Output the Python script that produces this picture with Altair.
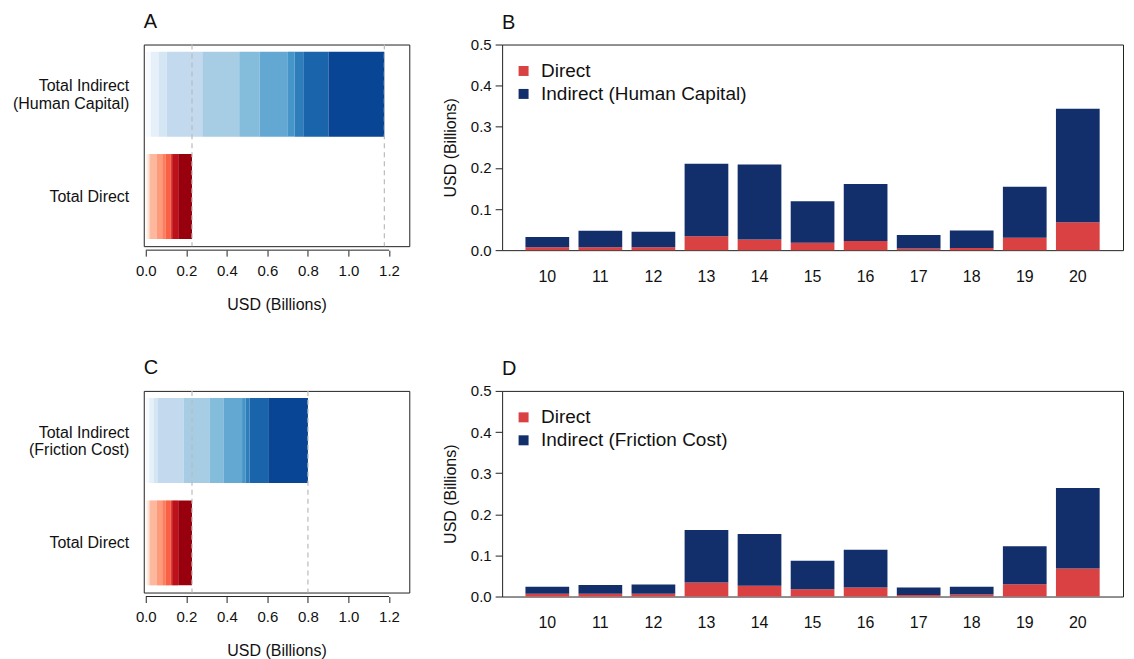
import altair as alt
import pandas as pd

# ---------------- data ----------------
years = [10, 11, 12, 13, 14, 15, 16, 17, 18, 19, 20]
direct = [0.007, 0.007, 0.007, 0.034, 0.026, 0.018, 0.022, 0.004, 0.005, 0.030, 0.068]
indirect_hc = [0.025, 0.040, 0.038, 0.176, 0.182, 0.101, 0.139, 0.033, 0.043, 0.124, 0.276]
indirect_fc = [0.017, 0.021, 0.022, 0.128, 0.126, 0.069, 0.092, 0.018, 0.019, 0.092, 0.196]
x_ticks_left = [0.0, 0.2, 0.4, 0.6, 0.8, 1.0, 1.2]
y_ticks_right = [0.0, 0.1, 0.2, 0.3, 0.4, 0.5]

# ---------------- styles ----------------
BLUES8 = ["#F7FBFF", "#DEEBF7", "#C6DBEF", "#9ECAE1", "#6BAED6", "#4292C6", "#2171B5", "#084594"]
REDS8 = ["#FFF5F0", "#FEE0D2", "#FCBBA1", "#FC9272", "#FB6A4A", "#EF3B2C", "#CB181D", "#99000D"]
RED = "#D94142"
NAVY = "#122E6B"
FONT = "Liberation Sans"
INK = "#222222"


def ramp(hexes, n):
    rgb = [tuple(int(h[i:i + 2], 16) for i in (1, 3, 5)) for h in hexes]
    out = []
    for k in range(n):
        t = k * (len(rgb) - 1) / (n - 1)
        i = min(int(t), len(rgb) - 2)
        f = t - i
        c = [round(rgb[i][j] + (rgb[i + 1][j] - rgb[i][j]) * f) for j in range(3)]
        out.append("#%02X%02X%02X" % tuple(c))
    return out


blues = ramp(BLUES8, len(years))
reds = ramp(REDS8, len(years))

LW, LH = 266, 202
RW, RH = 622, 206


def panel_title(letter, offset):
    return alt.TitleParams(letter, anchor="start", frame="group", fontSize=20, fontWeight="normal",
                           offset=offset, baseline="alphabetic", font=FONT)


def left_panel(letter, ind_vals, ind_label):
    rows = []
    for y, v, c in zip(years, ind_vals, blues):
        rows.append({"cat": ind_label, "year": y, "value": v, "col": c})
    for y, v, c in zip(years, direct, reds):
        rows.append({"cat": "Total Direct", "year": y, "value": v, "col": c})
    df = pd.DataFrame(rows)
    totals = df.groupby("cat", as_index=False)["value"].sum()
    axis_line = pd.DataFrame({"lo": [min(x_ticks_left)], "hi": [max(x_ticks_left)]})

    xscale = alt.Scale(domain=[-0.01, 1.30], nice=False, zero=False)
    bars = alt.Chart(df).mark_bar().encode(
        x=alt.X("value:Q", stack="zero", scale=xscale,
                axis=alt.Axis(values=x_ticks_left, format=".1f", grid=False, domain=False,
                              offset=4, tickSize=6, labelPadding=7, labelFontSize=15,
                              title="USD (Billions)", titleFontSize=16, titlePadding=18)),
        y=alt.Y("cat:N", sort=[ind_label, "Total Direct"],
                scale=alt.Scale(paddingInner=0.17, paddingOuter=0.07),
                axis=alt.Axis(title=None, ticks=False, domain=False, labelPadding=15,
                              labelFontSize=16, labelLineHeight=18,
                              labelOffset={"condition": {"test": "indexof(datum.label, '|') >= 0", "value": -8},
                                           "value": 0},
                              labelExpr="split(datum.label, '|')")),
        color=alt.Color("col:N", scale=None),
        order=alt.Order("year:Q", sort="ascending"),
    )
    rules = alt.Chart(totals).mark_rule(strokeDash=[5, 4], color="#BBBBBB", strokeWidth=1.2).encode(
        x=alt.X("value:Q", scale=xscale)
    )
    base = alt.Chart(axis_line).mark_rule(color=INK, strokeWidth=1).encode(
        x=alt.X("lo:Q", scale=xscale), x2="hi:Q", y=alt.value(LH + 4)
    )
    return alt.layer(bars, rules, base).properties(
        width=LW, height=LH, title=panel_title(letter, -4)
    )


def right_panel(letter, ind_vals, ind_label):
    rows = []
    for y, d, v in zip(years, direct, ind_vals):
        rows.append({"year": y, "type": "Direct", "value": d, "ord": 0})
        rows.append({"year": y, "type": ind_label, "value": v, "ord": 1})
    df = pd.DataFrame(rows)
    return alt.Chart(df).mark_bar().encode(
        x=alt.X("year:O", scale=alt.Scale(paddingInner=0.176, paddingOuter=0.44),
                axis=alt.Axis(labelAngle=0, ticks=False, domain=False, labelPadding=18,
                              labelFontSize=16, title=None)),
        y=alt.Y("value:Q", stack="zero", scale=alt.Scale(domain=[0, 0.5], nice=False),
                axis=alt.Axis(values=y_ticks_right, format=".1f", grid=False, domain=False,
                              tickSize=7, labelPadding=4, labelFontSize=15,
                              title="USD (Billions)", titleFontSize=16, titlePadding=12)),
        color=alt.Color("type:N", scale=alt.Scale(domain=["Direct", ind_label], range=[RED, NAVY]),
                        legend=alt.Legend(title=None, orient="none", legendX=12, legendY=17,
                                          symbolType="square", symbolSize=100, symbolStrokeWidth=0,
                                          symbolOpacity=1, labelFontSize=19, labelOffset=8,
                                          labelLimit=400, rowPadding=3, labelColor="#111111")),
        order=alt.Order("ord:Q", sort="ascending"),
    ).properties(
        width=RW, height=RH, title=panel_title(letter, -11)
    )


chart = alt.concat(
    left_panel("A", indirect_hc, "Total Indirect|(Human Capital)"),
    right_panel("B", indirect_hc, "Indirect (Human Capital)"),
    left_panel("C", indirect_fc, "Total Indirect|(Friction Cost)"),
    right_panel("D", indirect_fc, "Indirect (Friction Cost)"),
    columns=2, spacing={"row": 141, "column": 93}, bounds="flush",
).resolve_scale(color="independent").properties(
    padding={"left": 4, "top": 2, "right": 2, "bottom": 0}
).configure(font=FONT).configure_view(stroke=INK, strokeWidth=1).configure_axis(
    labelColor="#111111", titleColor="#111111", tickColor=INK, titleFontWeight="normal"
).configure_title(color="#111111")

chart.save("out.html", embed_options={"renderer": "svg", "actions": False})
